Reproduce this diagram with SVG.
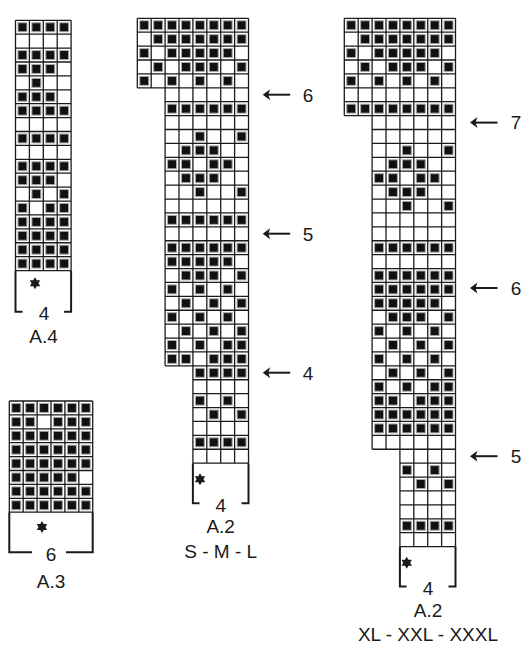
<svg xmlns="http://www.w3.org/2000/svg" xmlns:xlink="http://www.w3.org/1999/xlink" width="528" height="650" viewBox="0 0 528 650">
<style>
.g{fill:none;stroke:#1a1a1a;stroke-width:1.3}
.sq{fill:#111;stroke:#a8a8a8;stroke-width:1}
.br{fill:none;stroke:#1a1a1a;stroke-width:2}
.t{font-family:"Liberation Sans",Arial,sans-serif;font-size:19px;fill:#1a1a1a;text-anchor:middle}
.st{fill:#1a1a1a}
</style>
<defs>
<rect id="s" class="sq" x="2.5" y="2.5" width="9" height="9"/>
<g id="q4"><use href="#s"/><use href="#s" x="14"/><use href="#s" x="28"/><use href="#s" x="42"/></g>
<g id="q6"><use href="#q4"/><use href="#s" x="56"/><use href="#s" x="70"/></g>
<g id="q8"><use href="#q6"/><use href="#s" x="84"/><use href="#s" x="98"/></g>
<polygon id="star" class="st" points="0,-6 1.73,-3 5.2,-3 3.46,0 5.2,3 1.73,3 0,6 -1.73,3 -5.2,3 -3.46,0 -5.2,-3 -1.73,-3"/>
<g id="arr"><path d="M0 0L7.5-5.5L5.5 0L7.5 5.5Z" fill="#1a1a1a"/><path d="M4 0H27.5" stroke="#1a1a1a" stroke-width="2"/></g>
</defs>
<rect width="528" height="650" fill="#fff"/>

<g id="chart-a4">
<g transform="translate(15.5 20.3) scale(0.993)">
<path class="g" d="M0 0V252M14 0V252M28 0V252M42 0V252M56 0V252M0 0H56M0 14H56M0 28H56M0 42H56M0 56H56M0 70H56M0 84H56M0 98H56M0 112H56M0 126H56M0 140H56M0 154H56M0 168H56M0 182H56M0 196H56M0 210H56M0 224H56M0 238H56M0 252H56"/>
<use href="#q4" y="0"/>
<use href="#q4" y="28"/>
<use href="#s" x="0" y="42"/><use href="#s" x="14" y="42"/><use href="#s" x="28" y="42"/>
<use href="#s" x="14" y="56"/>
<use href="#s" x="0" y="70"/><use href="#s" x="14" y="70"/><use href="#s" x="28" y="70"/>
<use href="#q4" y="84"/>
<use href="#q4" y="112"/>
<use href="#q4" y="140"/>
<use href="#s" x="0" y="154"/><use href="#s" x="14" y="154"/><use href="#s" x="28" y="154"/>
<use href="#s" x="14" y="168"/><use href="#s" x="42" y="168"/>
<use href="#s" x="0" y="182"/><use href="#s" x="28" y="182"/><use href="#s" x="42" y="182"/>
<use href="#q4" y="196"/>
<use href="#q4" y="210"/>
<use href="#q4" y="224"/>
<use href="#q4" y="238"/>
</g>
<path class="br" d="M15.5 270.5V311.7H22.5M71.1 270.5V311.7H64.1"/>
<use href="#star" x="35" y="283.3"/>
<text class="t" x="44" y="320">4</text>
<text class="t" x="43.5" y="343">A.4</text>
</g>

<g id="chart-a3">
<g transform="translate(9.3 401) scale(0.993)">
<path class="g" d="M0 0V112M14 0V112M28 0V112M42 0V112M56 0V112M70 0V112M84 0V112M0 0H84M0 14H84M0 28H84M0 42H84M0 56H84M0 70H84M0 84H84M0 98H84M0 112H84"/>
<use href="#q6" y="0"/>
<use href="#s" x="0" y="14"/><use href="#s" x="14" y="14"/><use href="#s" x="42" y="14"/><use href="#s" x="56" y="14"/><use href="#s" x="70" y="14"/>
<use href="#q6" y="28"/>
<use href="#q6" y="42"/>
<use href="#q6" y="56"/>
<use href="#q4" y="70"/><use href="#s" x="56" y="70"/>
<use href="#q6" y="84"/>
<use href="#q6" y="98"/>
</g>
<path class="br" d="M9.3 512.2V552.3H32M92.7 512.2V552.3H66"/>
<use href="#star" x="42" y="527"/>
<text class="t" x="51" y="560.5">6</text>
<text class="t" x="51" y="587.5">A.3</text>
</g>

<g id="chart-a2-sml">
<g transform="translate(137.3 18.3) scale(0.993)">
<path class="g" d="M0 0H112M0 14H112M0 28H112M0 42H112M0 56H112M0 70H112M28 84H112M28 98H112M28 112H112M28 126H112M28 140H112M28 154H112M28 168H112M28 182H112M28 196H112M28 210H112M28 224H112M28 238H112M28 252H112M28 266H112M28 280H112M28 294H112M28 308H112M28 322H112M28 336H112M28 350H112M56 364H112M56 378H112M56 392H112M56 406H112M56 420H112M56 434H112M56 448H112M0 0V70M14 0V70M28 0V350M42 0V350M56 0V448M70 0V448M84 0V448M98 0V448M112 0V448"/>
<use href="#q8" y="0"/>
<use href="#s" x="14" y="14"/><use href="#s" x="28" y="14"/><use href="#s" x="42" y="14"/><use href="#s" x="56" y="14"/><use href="#s" x="70" y="14"/><use href="#s" x="84" y="14"/><use href="#s" x="98" y="14"/>
<use href="#s" x="0" y="28"/><use href="#s" x="28" y="28"/><use href="#s" x="42" y="28"/><use href="#s" x="56" y="28"/><use href="#s" x="70" y="28"/><use href="#s" x="84" y="28"/>
<use href="#s" x="14" y="42"/><use href="#s" x="42" y="42"/><use href="#s" x="56" y="42"/><use href="#s" x="70" y="42"/><use href="#s" x="98" y="42"/>
<use href="#s" x="0" y="56"/><use href="#s" x="28" y="56"/><use href="#s" x="56" y="56"/><use href="#s" x="84" y="56"/>
<use href="#q6" x="28" y="84"/>
<use href="#s" x="56" y="112"/><use href="#s" x="98" y="112"/>
<use href="#s" x="42" y="126"/><use href="#s" x="56" y="126"/><use href="#s" x="70" y="126"/>
<use href="#s" x="28" y="140"/><use href="#s" x="42" y="140"/><use href="#s" x="70" y="140"/><use href="#s" x="84" y="140"/>
<use href="#s" x="42" y="154"/><use href="#s" x="56" y="154"/><use href="#s" x="70" y="154"/>
<use href="#s" x="56" y="168"/><use href="#s" x="98" y="168"/>
<use href="#q6" x="28" y="196"/>
<use href="#q6" x="28" y="224"/>
<use href="#q4" x="28" y="238"/><use href="#s" x="84" y="238"/>
<use href="#s" x="42" y="252"/><use href="#s" x="56" y="252"/><use href="#s" x="70" y="252"/><use href="#s" x="98" y="252"/>
<use href="#s" x="28" y="266"/><use href="#s" x="56" y="266"/><use href="#s" x="84" y="266"/>
<use href="#s" x="42" y="280"/><use href="#s" x="70" y="280"/><use href="#s" x="98" y="280"/>
<use href="#s" x="28" y="294"/><use href="#s" x="56" y="294"/><use href="#s" x="84" y="294"/>
<use href="#s" x="42" y="308"/><use href="#s" x="70" y="308"/><use href="#s" x="98" y="308"/>
<use href="#s" x="28" y="322"/><use href="#s" x="56" y="322"/><use href="#s" x="84" y="322"/><use href="#s" x="98" y="322"/>
<use href="#s" x="28" y="336"/><use href="#s" x="42" y="336"/><use href="#s" x="70" y="336"/><use href="#s" x="84" y="336"/><use href="#s" x="98" y="336"/>
<use href="#q4" x="56" y="350"/>
<use href="#s" x="56" y="378"/><use href="#s" x="84" y="378"/>
<use href="#s" x="70" y="392"/><use href="#s" x="98" y="392"/>
<use href="#q4" x="56" y="420"/>
</g>
<path class="br" d="M192.9 463.3V503.3H199.5M248.5 463.3V503.3H241.5"/>
<use href="#star" x="200" y="479.3"/>
<text class="t" x="220.7" y="511.7">4</text>
<text class="t" x="220.7" y="533.3">A.2</text>
<text class="t" x="220.7" y="558.3">S - M - L</text>
</g>

<g id="chart-a2-xl">
<g transform="translate(344.3 18.3) scale(0.993)">
<path class="g" d="M0 0H112M0 14H112M0 28H112M0 42H112M0 56H112M0 70H112M0 84H112M0 98H112M28 112H112M28 126H112M28 140H112M28 154H112M28 168H112M28 182H112M28 196H112M28 210H112M28 224H112M28 238H112M28 252H112M28 266H112M28 280H112M28 294H112M28 308H112M28 322H112M28 336H112M28 350H112M28 364H112M28 378H112M28 392H112M28 406H112M28 420H112M28 434H112M56 448H112M56 462H112M56 476H112M56 490H112M56 504H112M56 518H112M56 532H112M0 0V98M14 0V98M28 0V434M42 0V434M56 0V532M70 0V532M84 0V532M98 0V532M112 0V532"/>
<use href="#q8" y="0"/>
<use href="#s" x="14" y="14"/><use href="#s" x="28" y="14"/><use href="#s" x="42" y="14"/><use href="#s" x="56" y="14"/><use href="#s" x="70" y="14"/><use href="#s" x="84" y="14"/><use href="#s" x="98" y="14"/>
<use href="#s" x="0" y="28"/><use href="#s" x="28" y="28"/><use href="#s" x="42" y="28"/><use href="#s" x="56" y="28"/><use href="#s" x="70" y="28"/><use href="#s" x="84" y="28"/>
<use href="#s" x="14" y="42"/><use href="#s" x="42" y="42"/><use href="#s" x="56" y="42"/><use href="#s" x="70" y="42"/><use href="#s" x="98" y="42"/>
<use href="#s" x="0" y="56"/><use href="#s" x="28" y="56"/><use href="#s" x="56" y="56"/><use href="#s" x="84" y="56"/>
<use href="#q8" y="84"/>
<use href="#s" x="56" y="126"/><use href="#s" x="98" y="126"/>
<use href="#s" x="42" y="140"/><use href="#s" x="56" y="140"/><use href="#s" x="70" y="140"/>
<use href="#s" x="28" y="154"/><use href="#s" x="42" y="154"/><use href="#s" x="70" y="154"/><use href="#s" x="84" y="154"/>
<use href="#s" x="42" y="168"/><use href="#s" x="56" y="168"/><use href="#s" x="70" y="168"/>
<use href="#s" x="56" y="182"/><use href="#s" x="98" y="182"/>
<use href="#q6" x="28" y="224"/>
<use href="#q6" x="28" y="252"/>
<use href="#q6" x="28" y="266"/>
<use href="#q4" x="28" y="280"/><use href="#s" x="84" y="280"/>
<use href="#s" x="42" y="294"/><use href="#s" x="56" y="294"/><use href="#s" x="70" y="294"/><use href="#s" x="98" y="294"/>
<use href="#s" x="28" y="308"/><use href="#s" x="56" y="308"/><use href="#s" x="84" y="308"/>
<use href="#s" x="42" y="322"/><use href="#s" x="70" y="322"/><use href="#s" x="98" y="322"/>
<use href="#s" x="28" y="336"/><use href="#s" x="56" y="336"/><use href="#s" x="84" y="336"/>
<use href="#s" x="42" y="350"/><use href="#s" x="70" y="350"/><use href="#s" x="98" y="350"/>
<use href="#s" x="28" y="364"/><use href="#s" x="56" y="364"/><use href="#s" x="84" y="364"/><use href="#s" x="98" y="364"/>
<use href="#s" x="28" y="378"/><use href="#s" x="42" y="378"/><use href="#s" x="70" y="378"/><use href="#s" x="84" y="378"/><use href="#s" x="98" y="378"/>
<use href="#q6" x="28" y="392"/>
<use href="#q6" x="28" y="406"/>
<use href="#s" x="56" y="448"/><use href="#s" x="84" y="448"/>
<use href="#s" x="70" y="462"/><use href="#s" x="98" y="462"/>
<use href="#q4" x="56" y="504"/>
</g>
<path class="br" d="M399.9 546.5V586.5H406.5M455.5 546.5V586.5H448.5"/>
<use href="#star" x="406.7" y="562.7"/>
<text class="t" x="428" y="594.5">4</text>
<text class="t" x="428" y="617">A.2</text>
<text class="t" x="428" y="641">XL - XXL - XXXL</text>
</g>

<g id="connectors">
<use href="#arr" x="262.7" y="94.7"/>
<use href="#arr" x="262.7" y="233.7"/>
<use href="#arr" x="262.7" y="372.7"/>
<use href="#arr" x="470" y="122.6"/>
<use href="#arr" x="470" y="288"/>
<use href="#arr" x="470" y="456.2"/>
<text class="t" x="308" y="101.5">6</text>
<text class="t" x="308" y="240.5">5</text>
<text class="t" x="308" y="379.5">4</text>
<text class="t" x="516" y="129.4">7</text>
<text class="t" x="516" y="294.8">6</text>
<text class="t" x="516" y="463">5</text>
</g>
</svg>
